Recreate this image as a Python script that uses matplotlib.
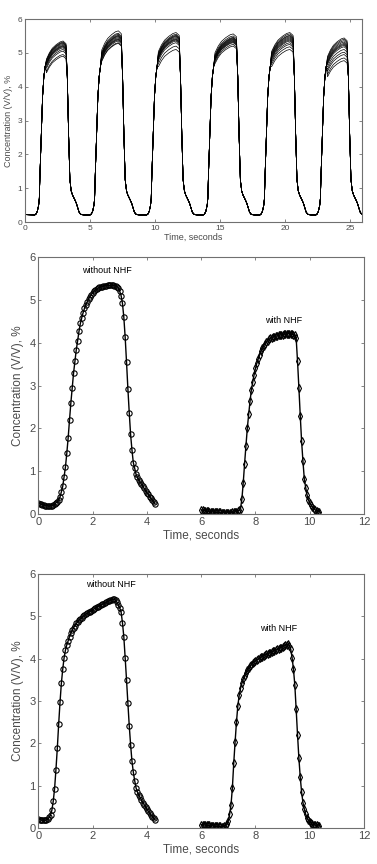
import numpy as np
import matplotlib
matplotlib.use("Agg")
import matplotlib.pyplot as plt

plt.rcParams['font.family'] = ['Liberation Sans', 'DejaVu Sans']

# ---- panel 1: repeated breaths, many traces overlaid ----
rise_t = [1.25, 5.5, 9.85, 14.2, 18.55, 22.85]
fall_t = [3.35, 7.6, 12.05, 16.45, 20.8, 24.95]
t_end = 25.85

rise_off = [-0.5, -0.4, -0.3, -0.2, -0.15, -0.1, 0.0, 0.1, 0.2, 0.3]
rise_val = [0.21, 0.24, 0.32, 0.5, 0.7, 1.4, 2.6, 3.7, 4.3, 4.6]
plat_pos = [0.0, 0.15, 0.3, 0.5, 0.7, 0.85, 1.0]
plat_rel = [0.9, 0.935, 0.96, 0.98, 0.995, 1.0, 0.985]
fall_off = [-0.1, 0.0, 0.1, 0.2, 0.3, 0.4, 0.5, 0.6, 0.7, 0.8, 0.9, 1.0, 1.2]
fall_val = [4.3, 2.6, 1.25, 0.92, 0.8, 0.72, 0.64, 0.55, 0.42, 0.3, 0.24, 0.22, 0.21]

peaks = [
    [5.35, 5.32, 5.3, 5.28, 5.25, 5.22, 5.2, 5.18, 5.15, 5.1, 5.05, 4.95, 4.9],
    [5.65, 5.58, 5.55, 5.52, 5.5, 5.48, 5.45, 5.42, 5.4, 5.38, 5.35, 5.3, 5.28],
    [5.6, 5.55, 5.52, 5.5, 5.48, 5.45, 5.42, 5.4, 5.38, 5.35, 5.3, 5.2, 5.1],
    [5.56, 5.5, 5.46, 5.44, 5.42, 5.4, 5.38, 5.36, 5.34, 5.32, 5.3, 5.25, 5.2],
    [5.6, 5.56, 5.52, 5.5, 5.47, 5.44, 5.41, 5.38, 5.35, 5.3, 5.25, 5.18, 5.1],
    [5.44, 5.4, 5.36, 5.32, 5.28, 5.25, 5.22, 5.18, 5.1, 5.02, 4.95, 4.85, 4.77],
]
start_val = 0.22

# ---- panels 2 and 3: one breath without / with NHF, sampled every 0.05 s ----
dt = 0.05
t0_without = 0.0
t0_with = 6.0

b_without = [0.25, 0.24, 0.23, 0.22, 0.21, 0.2, 0.2, 0.19, 0.19, 0.19, 0.2, 0.21, 0.23, 0.26, 0.29, 0.34,
             0.4, 0.52, 0.65, 0.87, 1.1, 1.42, 1.78, 2.2, 2.6, 2.95, 3.3, 3.57, 3.84, 4.05, 4.27, 4.45, 4.58,
             4.7, 4.8, 4.88, 4.95, 5.02, 5.07, 5.12, 5.16, 5.2, 5.23, 5.25, 5.27, 5.29, 5.3, 5.31, 5.32, 5.33,
             5.33, 5.34, 5.34, 5.34, 5.34, 5.34, 5.33, 5.33, 5.31, 5.28,
             5.2, 5.1, 4.92, 4.6, 4.13, 3.55, 2.93, 2.37, 1.86, 1.5, 1.2, 1.07, 0.93, 0.86, 0.8, 0.75, 0.7,
             0.65, 0.6, 0.55, 0.5, 0.46, 0.41, 0.37, 0.32, 0.28, 0.24]
b_with = [0.1, 0.09, 0.08, 0.08, 0.07, 0.07, 0.06, 0.06, 0.05, 0.05, 0.05, 0.04, 0.04, 0.04, 0.04, 0.03,
          0.03, 0.03, 0.03, 0.03, 0.03, 0.03, 0.03, 0.04, 0.04, 0.05, 0.06, 0.07, 0.09, 0.13,
          0.35, 0.73, 1.18, 1.6, 2.0, 2.33, 2.63, 2.9, 3.08, 3.25, 3.4, 3.52, 3.62, 3.72, 3.8, 3.87, 3.93,
          3.98, 4.02, 4.05, 4.08, 4.1, 4.12, 4.13, 4.14, 4.15, 4.16, 4.17, 4.18, 4.18, 4.19, 4.2, 4.2,
          4.21, 4.21, 4.21, 4.21, 4.2, 4.19, 4.17, 4.1, 3.57, 2.95, 2.3, 1.7, 1.23, 0.82, 0.62, 0.45,
          0.33, 0.26, 0.21, 0.17, 0.13, 0.1, 0.08, 0.06, 0.05]

c_without = [0.21, 0.2, 0.19, 0.18, 0.18, 0.18, 0.19, 0.21, 0.25, 0.3,
             0.42, 0.63, 0.93, 1.38, 1.88, 2.45, 2.97, 3.42, 3.75, 4.02, 4.2, 4.33, 4.42, 4.52, 4.6, 4.67,
             4.73, 4.78, 4.83, 4.87, 4.91, 4.94, 4.97, 5.0, 5.03, 5.05, 5.07, 5.09, 5.11, 5.13, 5.15, 5.17,
             5.19, 5.21, 5.23, 5.25, 5.26, 5.28, 5.3, 5.31, 5.33, 5.35, 5.36, 5.38, 5.39, 5.4, 5.4, 5.38,
             5.33, 5.26, 5.2, 5.1, 4.85, 4.52, 4.02, 3.5, 2.95, 2.42, 1.97, 1.58, 1.32, 1.12, 0.95, 0.85,
             0.78, 0.72, 0.66, 0.6, 0.55, 0.5, 0.45, 0.4, 0.35, 0.31, 0.27, 0.23, 0.2]
c_with = [0.08, 0.08, 0.07, 0.07, 0.06, 0.06, 0.06, 0.05, 0.05, 0.05, 0.04, 0.04, 0.04, 0.04, 0.04,
          0.03, 0.03, 0.04, 0.06, 0.1,
          0.17, 0.33, 0.55, 0.95, 1.53, 2.03, 2.5, 2.88, 3.13, 3.3, 3.42, 3.52, 3.6, 3.67, 3.73, 3.78,
          3.82, 3.86, 3.89, 3.92, 3.95, 3.97, 3.99, 4.01, 4.03, 4.05, 4.07, 4.08, 4.1, 4.11, 4.13, 4.14,
          4.16, 4.17, 4.19, 4.2, 4.22, 4.23, 4.25, 4.26, 4.28, 4.3, 4.32, 4.33, 4.34, 4.3, 4.22, 4.02,
          3.75, 3.38, 2.8, 2.2, 1.65, 1.2, 0.85, 0.6, 0.45, 0.32, 0.24, 0.18, 0.14, 0.11, 0.09, 0.08,
          0.07, 0.06, 0.05, 0.05]

label_without = "without NHF"
label_with = "with NHF"
xlab = "Time, seconds"
ylab = "Concentration (V/V), %"

axis_col = '#707070'
text_col = '#4a4a4a'


def style(ax, fs):
    for s in ax.spines.values():
        s.set_color(axis_col)
        s.set_linewidth(0.8)
    ax.tick_params(direction='in', top=True, right=True, length=2.5, width=0.6,
                   colors=axis_col, labelcolor=text_col, labelsize=fs, pad=2)


fig = plt.figure(figsize=(3.77, 8.64), dpi=100)

# panel 1
ax1 = fig.add_axes([0.0663, 0.743, 0.894, 0.235])
n_tr = len(peaks[0])
for k in range(n_tr):
    tt = [0.0]
    yy = [start_val]
    for c in range(len(rise_t)):
        P = peaks[c][k]
        tt += [rise_t[c] + o for o in rise_off]
        yy += rise_val
        a = rise_t[c] + 0.4
        b = fall_t[c] - 0.2
        tt += [a + f * (b - a) for f in plat_pos]
        yy += [P * r for r in plat_rel]
        for o, v in zip(fall_off, fall_val):
            if fall_t[c] + o <= t_end:
                tt.append(fall_t[c] + o)
                yy.append(v)
    ax1.plot(tt, yy, color='black', lw=0.5)
ax1.set_xlim(0, 25.9)
ax1.set_ylim(0, 6)
ax1.set_xticks([0, 5, 10, 15, 20, 25])
ax1.set_yticks(range(7))
style(ax1, 6)
ax1.set_xlabel(xlab, fontsize=6.5, color=text_col, labelpad=1)
ax1.set_ylabel(ylab, fontsize=6.5, color=text_col, labelpad=3)

# panels 2 and 3
pos = [[0.1016, 0.405, 0.864, 0.2975], [0.1016, 0.0417, 0.864, 0.294]]
data = [(b_without, b_with), (c_without, c_with)]
txt = [((1.6, 5.68), (8.37, 4.52)), ((1.76, 5.74), (8.15, 4.72))]
for p, (w0, w1), (tp0, tp1) in zip(pos, data, txt):
    ax = fig.add_axes(p)
    t_a = t0_without + dt * np.arange(len(w0))
    t_b = t0_with + dt * np.arange(len(w1))
    ax.plot(t_a, w0, color='black', lw=1.0, marker='o', ms=3.8, mfc='none', mec='black', mew=0.8)
    ax.plot(t_b, w1, color='black', lw=1.0, marker='d', ms=3.8, mfc='none', mec='black', mew=0.8)
    ax.text(tp0[0], tp0[1], label_without, fontsize=6.5, va='center', ha='left')
    ax.text(tp1[0], tp1[1], label_with, fontsize=6.5, va='center', ha='left')
    ax.set_xlim(0, 12)
    ax.set_ylim(0, 6)
    ax.set_xticks(range(0, 13, 2))
    ax.set_yticks(range(7))
    style(ax, 8)
    ax.set_xlabel(xlab, fontsize=8.5, color=text_col, labelpad=2)
    ax.set_ylabel(ylab, fontsize=8.5, color=text_col, labelpad=4)

fig.savefig('out.png', dpi=100)
